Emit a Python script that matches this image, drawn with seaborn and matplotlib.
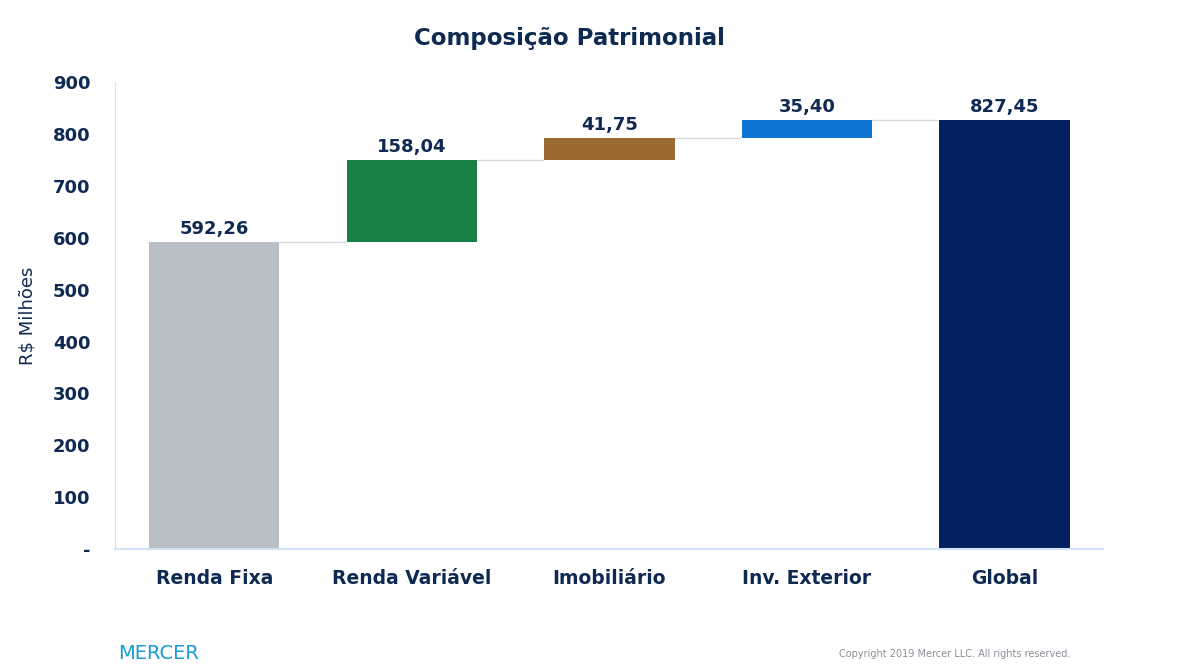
import matplotlib
matplotlib.use("Agg")
import matplotlib.pyplot as plt
import seaborn as sns
import numpy as np
import pandas as pd

categories = ["Renda Fixa", "Renda Variável", "Imobiliário", "Inv. Exterior", "Global"]
values = [592.26, 158.04, 41.75, 35.40, 827.45]
colors = ["#b8bfc7", "#1a7f44", "#9a6a32", "#0e75d0", "#03205f"]
yticks = [0, 100, 200, 300, 400, 500, 600, 700, 800, 900]

navy = "#0f2a52"

# waterfall: cumulative tops and bases
tops, bases = [], []
run = 0.0
for i, v in enumerate(values):
    if i == len(values) - 1:
        bases.append(0.0)
        tops.append(v)
    else:
        bases.append(run if i > 0 else 0.0)
        run += v
        tops.append(run)

df = pd.DataFrame({"cat": categories, "top": tops, "base": bases})

fig = plt.figure(figsize=(12.03, 6.68), dpi=100)
ax = fig.add_axes([0.096, 0.178, 0.821, 0.699])

sns.barplot(data=df, x="cat", y="top", hue="cat", palette=colors, width=0.66,
            legend=False, ax=ax, saturation=1)
sns.barplot(data=df, x="cat", y="base", color="white", width=0.66, ax=ax, saturation=1)

# connectors
for i in range(len(values) - 1):
    ax.plot([i + 0.33, i + 1 - 0.33], [tops[i], tops[i]], color="#d9dde2", lw=1, zorder=0)

for i, v in enumerate(values):
    ax.text(i, tops[i] + 8, f"{v:.2f}".replace(".", ","), ha="center", va="bottom",
            fontsize=13, fontweight="bold", color=navy)

ax.set_ylim(0, 900)
ax.set_xlim(-0.5, 4.5)
ax.set_yticks(yticks)
ax.set_yticklabels(["-"] + [str(t) for t in yticks[1:]], fontsize=13, fontweight="bold", color=navy)
ax.tick_params(axis="x", labelsize=13.5, colors=navy, length=0, pad=14)
ax.tick_params(axis="y", length=0, pad=18)
for lbl in ax.get_xticklabels():
    lbl.set_fontweight("bold")
ax.set_xlabel("")
ax.set_ylabel("R$ Milhões", fontsize=13, color=navy, labelpad=12)
for s in ["top", "right"]:
    ax.spines[s].set_visible(False)
for s in ["left", "bottom"]:
    ax.spines[s].set_color("#cfe3f5")
ax.spines["bottom"].set_linewidth(1.5)

fig.text(0.473, 0.932, "Composição Patrimonial", ha="center", fontsize=16.5,
         fontweight="bold", color=navy)
fig.text(0.098, 0.008, "MERCER", fontsize=14, color="#1a9ad6", va="bottom")
fig.text(0.89, 0.014, "Copyright 2019 Mercer LLC. All rights reserved.", fontsize=7,
         color="#8a8f96", ha="right", va="bottom")

fig.savefig("out.png", dpi=100)
